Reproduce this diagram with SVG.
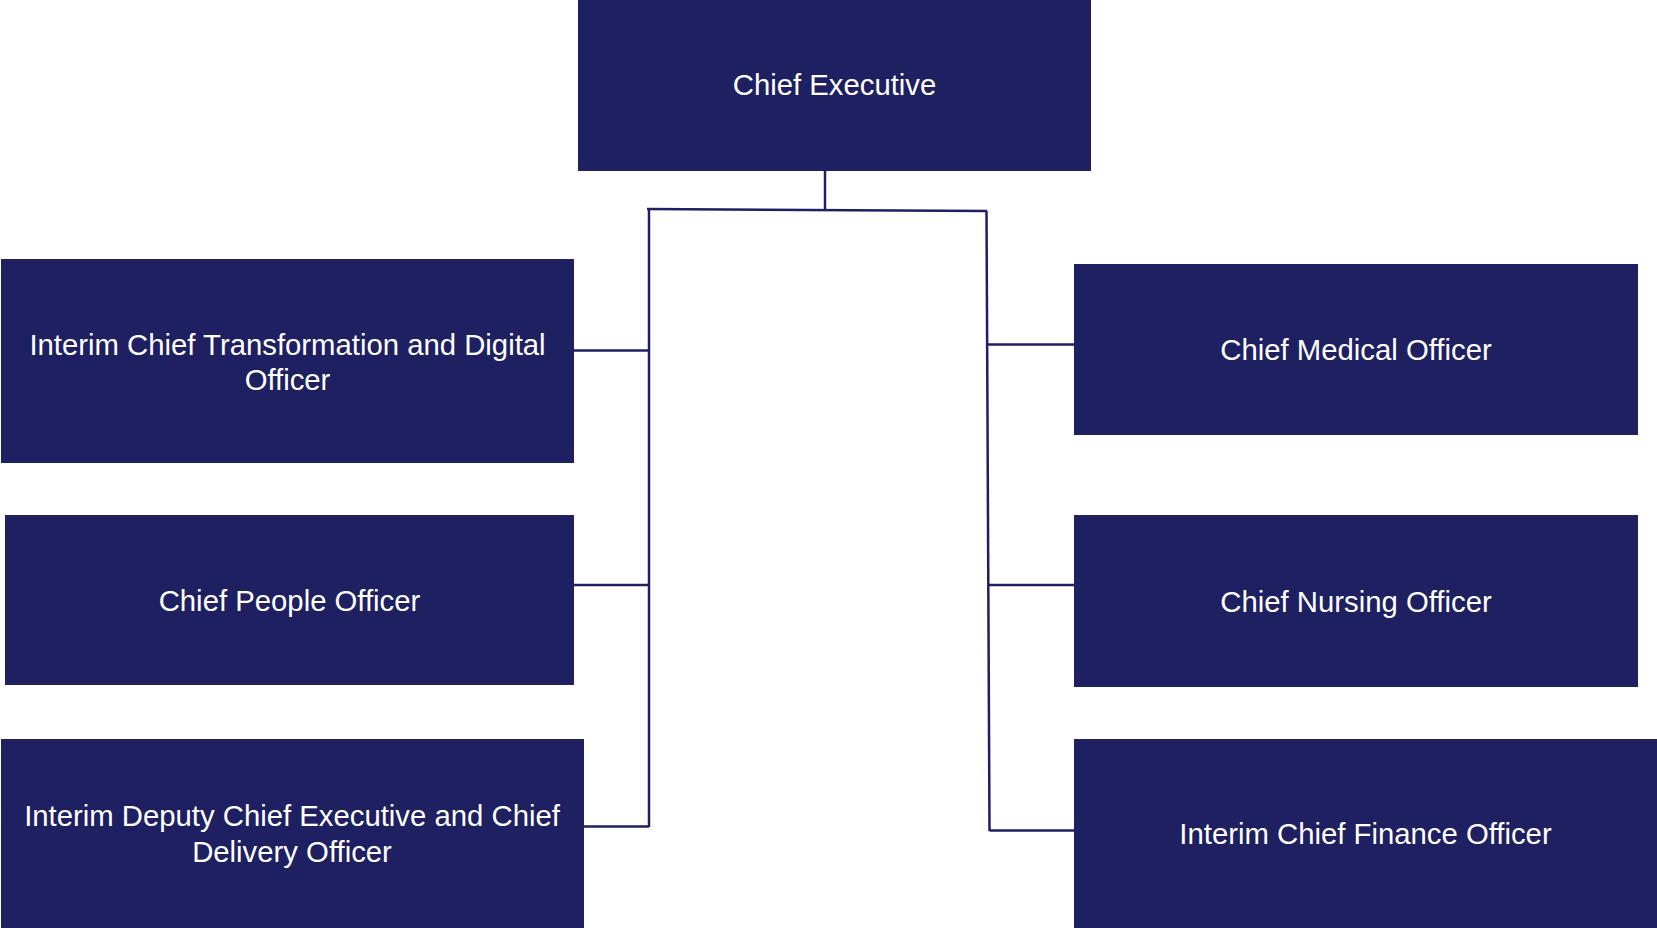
<svg xmlns="http://www.w3.org/2000/svg" width="1657" height="928" viewBox="0 0 1657 928">
<style>
.box{fill:#1e2062}
.lbl{fill:#ffffff;font-family:"Liberation Sans",Arial,sans-serif;font-size:29.3px;text-anchor:middle}
.conn{stroke:#1e2062;stroke-width:2.5;fill:none}
</style>
<rect width="1657" height="928" fill="#ffffff"/>
<g id="connectors">
<line class="conn" x1="825" y1="171" x2="825" y2="210"/>
<line class="conn" x1="647" y1="209" x2="987" y2="211"/>
<line class="conn" x1="649" y1="209" x2="649" y2="827"/>
<line class="conn" x1="574" y1="350.5" x2="649" y2="350.5"/>
<line class="conn" x1="574" y1="585" x2="649" y2="585"/>
<line class="conn" x1="584" y1="826.5" x2="649" y2="826.5"/>
<line class="conn" x1="986.5" y1="211" x2="989.5" y2="831"/>
<line class="conn" x1="987" y1="344.5" x2="1074" y2="344.5"/>
<line class="conn" x1="988" y1="585" x2="1074" y2="585"/>
<line class="conn" x1="989.5" y1="830.5" x2="1074" y2="830.5"/>
</g>
<g id="chief-executive">
<rect class="box" x="578" y="0" width="513" height="171"/>
<text class="lbl" x="834.5" y="95">Chief Executive</text>
</g>
<g id="transformation-digital">
<rect class="box" x="1" y="259" width="573" height="204"/>
<text class="lbl" x="287.5" y="355">Interim Chief Transformation and Digital</text>
<text class="lbl" x="287.5" y="390">Officer</text>
</g>
<g id="people">
<rect class="box" x="5" y="515" width="569" height="170"/>
<text class="lbl" x="289.5" y="610.5">Chief People Officer</text>
</g>
<g id="deputy-ce">
<rect class="box" x="1" y="739" width="583" height="189"/>
<text class="lbl" x="292" y="826">Interim Deputy Chief Executive and Chief</text>
<text class="lbl" x="292" y="862">Delivery Officer</text>
</g>
<g id="medical">
<rect class="box" x="1074" y="264" width="564" height="171"/>
<text class="lbl" x="1356" y="360">Chief Medical Officer</text>
</g>
<g id="nursing">
<rect class="box" x="1074" y="515" width="564" height="172"/>
<text class="lbl" x="1356" y="611.5">Chief Nursing Officer</text>
</g>
<g id="finance">
<rect class="box" x="1074" y="739" width="583" height="189"/>
<text class="lbl" x="1365.5" y="844">Interim Chief Finance Officer</text>
</g>
</svg>
